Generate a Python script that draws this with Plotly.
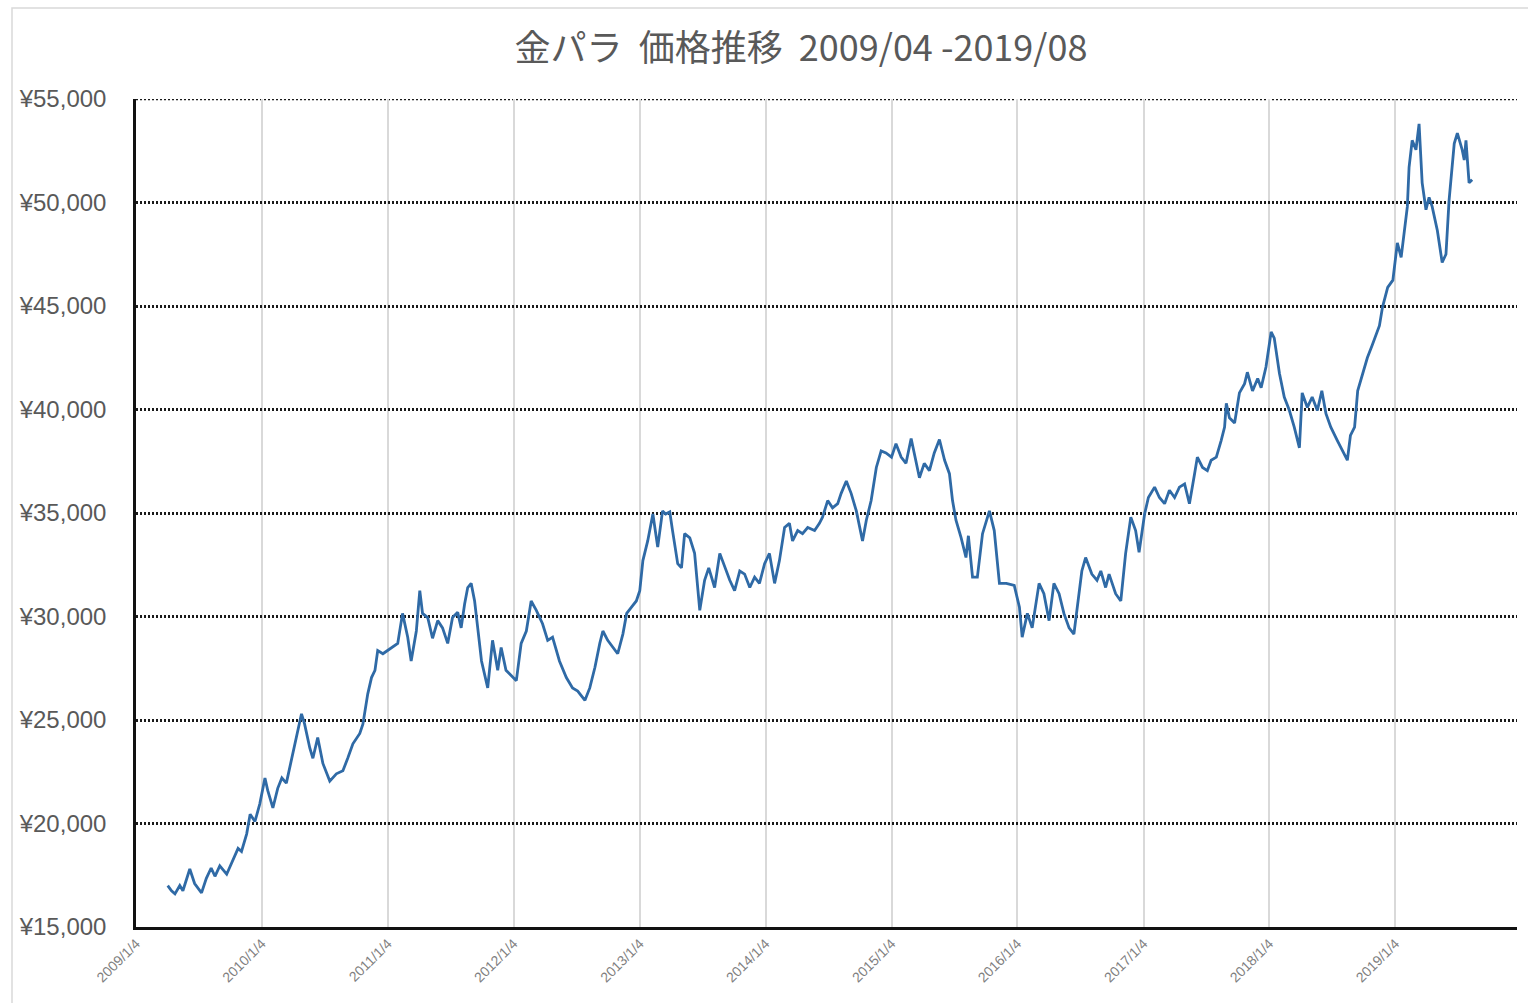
import plotly.graph_objects as go

# Weekly-ish closing prices of 金パラ (gold-palladium alloy), JPY per 30 g
dates = [
    "2009-04-06", "2009-04-17", "2009-04-27", "2009-05-11", "2009-05-20", "2009-06-09", "2009-06-23",
    "2009-07-13", "2009-07-27", "2009-08-10", "2009-08-21", "2009-09-04", "2009-09-24", "2009-10-08",
    "2009-10-27", "2009-11-06", "2009-11-21", "2009-12-01", "2009-12-15", "2009-12-29",
    "2010-01-13", "2010-01-21", "2010-02-05", "2010-02-19", "2010-03-03", "2010-03-16", "2010-03-31",
    "2010-04-14", "2010-04-29", "2010-05-08", "2010-05-23", "2010-06-01", "2010-06-15", "2010-06-30",
    "2010-07-20", "2010-08-08", "2010-08-27", "2010-09-10", "2010-09-25", "2010-10-15", "2010-10-24",
    "2010-11-07", "2010-11-18", "2010-11-28", "2010-12-06", "2010-12-21",
    "2011-01-04", "2011-01-18", "2011-02-02", "2011-02-16", "2011-03-03", "2011-03-13", "2011-03-28",
    "2011-04-07", "2011-04-15", "2011-04-30", "2011-05-14", "2011-05-29", "2011-06-12", "2011-06-27",
    "2011-07-11", "2011-07-26", "2011-08-05", "2011-08-15", "2011-08-24", "2011-09-03", "2011-09-13",
    "2011-09-22", "2011-10-03", "2011-10-21", "2011-11-04", "2011-11-19", "2011-11-29", "2011-12-13",
    "2012-01-01", "2012-01-12", "2012-01-26", "2012-02-10", "2012-02-24", "2012-03-10", "2012-03-28",
    "2012-04-12", "2012-04-26", "2012-05-16", "2012-06-05", "2012-06-23", "2012-07-08", "2012-07-29",
    "2012-08-12", "2012-08-27", "2012-09-10", "2012-09-19", "2012-10-03", "2012-10-18", "2012-11-01",
    "2012-11-16", "2012-11-27", "2012-12-11", "2012-12-25",
    "2013-01-04", "2013-01-13", "2013-01-27", "2013-02-11", "2013-02-25", "2013-03-11", "2013-03-20",
    "2013-04-01", "2013-04-09", "2013-04-24", "2013-05-05", "2013-05-14", "2013-05-29", "2013-06-12",
    "2013-06-27", "2013-07-11", "2013-07-23", "2013-08-09", "2013-08-24", "2013-09-08", "2013-09-22",
    "2013-10-06", "2013-10-21", "2013-11-04", "2013-11-19", "2013-12-03", "2013-12-17",
    "2014-01-01", "2014-01-15", "2014-01-30", "2014-02-13", "2014-02-28", "2014-03-14", "2014-03-23",
    "2014-04-07", "2014-04-21", "2014-05-06", "2014-05-26", "2014-06-09", "2014-06-18", "2014-07-03",
    "2014-07-17", "2014-08-01", "2014-08-11", "2014-08-26", "2014-09-09", "2014-09-24", "2014-10-12",
    "2014-10-23", "2014-11-06", "2014-11-21", "2014-12-05", "2014-12-19",
    "2015-01-04", "2015-01-17", "2015-02-01", "2015-02-15", "2015-03-02", "2015-03-16", "2015-03-26",
    "2015-04-09", "2015-04-24", "2015-05-08", "2015-05-23", "2015-06-07", "2015-06-21", "2015-06-30",
    "2015-07-10", "2015-07-25", "2015-08-08", "2015-08-15", "2015-08-27", "2015-09-10", "2015-09-25",
    "2015-10-15", "2015-10-29", "2015-11-13", "2015-12-03", "2015-12-26",
    "2016-01-10", "2016-01-18", "2016-02-02", "2016-02-16", "2016-03-07", "2016-03-21", "2016-04-05",
    "2016-04-19", "2016-05-04", "2016-05-18", "2016-06-02", "2016-06-16", "2016-06-25", "2016-07-09",
    "2016-07-20", "2016-08-07", "2016-08-22", "2016-09-02", "2016-09-16", "2016-09-26", "2016-10-15",
    "2016-10-30", "2016-11-13", "2016-11-28", "2016-12-12", "2016-12-22",
    "2017-01-07", "2017-01-18", "2017-02-05", "2017-02-19", "2017-03-06", "2017-03-20", "2017-04-04",
    "2017-04-18", "2017-05-03", "2017-05-17", "2017-06-01", "2017-06-09", "2017-06-24", "2017-07-08",
    "2017-07-19", "2017-08-03", "2017-08-17", "2017-08-27", "2017-09-01", "2017-09-10", "2017-09-25",
    "2017-10-09", "2017-10-24", "2017-11-01", "2017-11-16", "2017-12-01", "2017-12-11", "2017-12-25",
    "2018-01-09", "2018-01-18", "2018-02-02", "2018-02-16", "2018-03-03", "2018-03-17", "2018-04-01",
    "2018-04-09", "2018-04-24", "2018-05-08", "2018-05-23", "2018-06-05", "2018-06-17", "2018-07-01",
    "2018-07-20", "2018-08-04", "2018-08-18", "2018-08-27", "2018-09-08", "2018-09-17", "2018-10-01",
    "2018-10-15", "2018-10-29", "2018-11-19", "2018-11-28", "2018-12-13", "2018-12-28",
    "2019-01-10", "2019-01-21", "2019-01-30", "2019-02-08", "2019-02-13", "2019-02-22", "2019-03-05",
    "2019-03-14", "2019-03-23", "2019-04-03", "2019-04-12", "2019-04-21", "2019-05-06", "2019-05-20",
    "2019-05-31", "2019-06-09", "2019-06-24", "2019-07-03", "2019-07-17", "2019-07-23", "2019-07-28",
    "2019-08-06", "2019-08-15",
]

prices = [
    17000, 16750, 16600, 17000, 16750, 17800, 17100,
    16650, 17350, 17850, 17450, 17950, 17550, 18100,
    18800, 18650, 19500, 20450, 20100, 20950,
    22200, 21600, 20750, 21700, 22200, 21950, 23050,
    24150, 25300, 24800, 23650, 23150, 24150, 22900,
    22050, 22400, 22550, 23150, 23850, 24350, 24800,
    26250, 27050, 27400, 28350, 28200,
    28350, 28500, 28700, 30150, 29000, 27850, 29300,
    31250, 30150, 29950, 28950, 29800, 29450, 28700,
    29950, 30200, 29450, 30600, 31400, 31600, 30750,
    29450, 27850, 26550, 28850, 27400, 28500, 27400,
    27050, 26900, 28700, 29300, 30750, 30300, 29650,
    28850, 29000, 27850, 27050, 26550, 26400, 25950,
    26550, 27550, 28700, 29300, 28850, 28500, 28200,
    29150, 30150, 30450, 30750,
    31250, 32700, 33650, 34950, 33350, 35100, 34950,
    35050, 34150, 32550, 32350, 34000, 33800, 33050,
    30300, 31750, 32350, 31400, 33050, 32350, 31750,
    31250, 32200, 32050, 31400, 31900, 31600,
    32550, 33050, 31600, 32700, 34300, 34500, 33650,
    34150, 34000, 34300, 34150, 34500, 34800, 35600,
    35250, 35450, 35950, 36550, 35950, 35100, 33650,
    34650, 35600, 37200, 38000, 37900,
    37700, 38350, 37700, 37400, 38600, 37550, 36700,
    37400, 37050, 37900, 38550, 37550, 36900, 35600,
    34650, 33800, 32850, 33900, 31900, 31900, 34000,
    35100, 34150, 31600, 31600, 31500,
    30450, 29000, 30150, 29450, 31600, 31100, 29800,
    31600, 31100, 30150, 29450, 29150, 30450, 32200,
    32850, 32050, 31750, 32200, 31400, 32050, 31100,
    30750, 33050, 34800, 34150, 33100,
    34950, 35750, 36250, 35750, 35450, 36100, 35750,
    36250, 36400, 35450, 36900, 37700, 37200, 37050,
    37550, 37700, 38500, 39150, 40300, 39600, 39350,
    40800, 41250, 41800, 40900, 41500, 41050, 42050,
    43750, 43450, 41750, 40600, 39950, 39150, 38150,
    40800, 40100, 40600, 39950, 40900, 39800, 39150,
    38500, 38000, 37550, 38750, 39150, 40900, 41750,
    42500, 43100, 44050, 44950, 45900, 46250,
    48050, 47350, 48500, 49800, 51700, 53000, 52550,
    53800, 50950, 49650, 50250, 49800, 48650, 47100,
    47500, 50100, 52850, 53350, 52550, 52050, 53000,
    50950, 51100,
]

# Axis ticks
year_ticks = [f"{y}-01-04" for y in range(2009, 2020)]
year_labels = [f"{y}/1/4" for y in range(2009, 2020)]
y_ticks = [15000, 20000, 25000, 30000, 35000, 40000, 45000, 50000, 55000]
y_labels = ["¥15,000", "¥20,000", "¥25,000", "¥30,000", "¥35,000",
            "¥40,000", "¥45,000", "¥50,000", "¥55,000"]

title_text = "金パラ  価格推移  2009/04 -2019/08"

fig = go.Figure()
fig.add_trace(go.Scatter(
    x=dates, y=prices, mode="lines",
    line=dict(color="#2f6aa6", width=2.8),
    hoverinfo="x+y", showlegend=False,
))

W, H = 1528, 1003
L, R, T, B = 136, 11, 99, 76
plot_w = W - L - R
plot_h = H - T - B

grid_dash = "2px,2px"

fig.update_layout(
    width=W, height=H,
    margin=dict(l=L, r=R, t=T, b=B, pad=0),
    paper_bgcolor="white",
    plot_bgcolor="white",
    title=dict(
        text=title_text,
        font=dict(family="Noto Sans CJK JP", size=36, color="#595959"),
        x=(801 - L) / plot_w, xref="paper", xanchor="center",
        y=1 - 48 / H, yref="container", yanchor="middle",
    ),
    xaxis=dict(
        type="date",
        range=["2009-01-04", "2019-12-23"],
        tickmode="array", tickvals=year_ticks, ticktext=year_labels,
        tickangle=-45,
        tickfont=dict(family="Liberation Sans", size=14, color="#7f7f7f"),
        showgrid=True, gridcolor="#d9d9d9", gridwidth=2,
        showline=True, linecolor="#111111", linewidth=3,
        ticks="", zeroline=False,
    ),
    yaxis=dict(
        range=[15000, 55000],
        tickmode="array", tickvals=y_ticks, ticktext=y_labels,
        tickfont=dict(family="Liberation Sans", size=24, color="#595959"),
        ticklabelstandoff=22,
        showgrid=True, gridcolor="#1a1a1a", griddash=grid_dash, gridwidth=2.5,
        showline=True, linecolor="#111111", linewidth=2.5,
        ticks="", zeroline=False,
    ),
    shapes=[
        # light chart-area frame
        dict(type="rect", xref="paper", yref="paper",
             x0=(12 - L) / plot_w, x1=(W + 5 - L) / plot_w,
             y0=-(B + 5) / plot_h, y1=1 + (T - 8) / plot_h,
             line=dict(color="#d9d9d9", width=1.5), layer="below"),
        # dotted gridline along the top edge of the value range
        dict(type="line", xref="paper", yref="y",
             x0=0, x1=1, y0=y_ticks[-1], y1=y_ticks[-1],
             line=dict(color="#1a1a1a", width=2.5, dash=grid_dash), layer="below"),
    ],
)

fig.write_html("out.html")
